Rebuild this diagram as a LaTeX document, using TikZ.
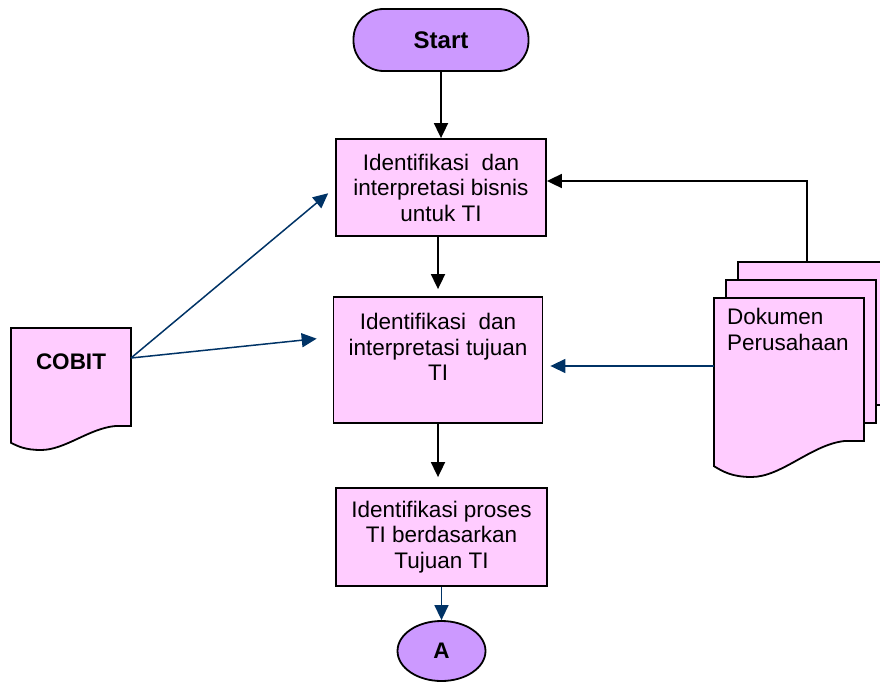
\documentclass[tikz,border=0pt]{standalone}
\usepackage{fontspec}
\setmainfont{Liberation Sans}
\usetikzlibrary{arrows.meta,shapes.geometric}
\definecolor{pinkbox}{HTML}{FFCCFF}
\definecolor{ungu}{HTML}{CC99FF}
\definecolor{navy}{HTML}{003366}
\newcommand\teks{\fontsize{22.5pt}{25.5pt}\selectfont}
% document symbol: x, y, width, height, wave depth
\newcommand\docpath[5]{%
  \filldraw[dok] (#1,#2) -- ({#1+#3},#2) -- ({#1+#3},{#2+#4}) -- ({#1+0.87*#3},{#2+#4})
    .. controls ({#1+0.65*#3},{#2+#4+0.1*#5}) and ({#1+0.45*#3},{#2+#4+#5}) .. ({#1+0.25*#3},{#2+#4+#5})
    .. controls ({#1+0.12*#3},{#2+#4+#5}) and ({#1+0.06*#3},{#2+#4+0.85*#5}) .. (#1,{#2+#4+0.7*#5}) -- cycle;}
\tikzset{
  kotak/.style = {rectangle, draw=black, fill=pinkbox, line width=1.8pt,
    align=center, inner sep=0pt, font=\teks},
  terminal/.style = {rectangle, rounded corners=30pt, draw=black, fill=ungu,
    line width=1.8pt, minimum width=175pt, minimum height=62pt,
    font=\fontsize{24pt}{26pt}\selectfont\bfseries},% start
  konektor/.style = {ellipse, draw=black, fill=ungu, line width=1.8pt,
    minimum width=88pt, minimum height=60pt, inner sep=0pt, font=\teks\bfseries},
  dok/.style = {draw=black, fill=pinkbox, line width=1.8pt},
  panah/.style = {-{Triangle[length=15pt,width=14pt]}, line width=1.8pt, black},
  panahbiru/.style = {panah, navy, line width=1.5pt}
}

\begin{document}
\begin{tikzpicture}[x=1pt,y=-1pt]
\useasboundingbox (0,0) rectangle (880,682);
% documents
\docpath{11}{328}{120}{98}{24}
\docpath{738}{262}{150}{143}{36}
\docpath{726}{280}{150}{143}{36}
\docpath{714}{298}{150}{143}{36}
\node[font=\teks\bfseries, inner sep=0pt] (cobit) at (71,362) {COBIT};
\node[font=\teks, align=left, anchor=north west, inner sep=0pt] (dokumen) at (727,308) {Dokumen\\Perusahaan};
\coordinate (cobitR) at (131,358);
\coordinate (dokL) at (714,366);
\coordinate (dokT) at (807,262);
% flow
\node[terminal] (start) at (441,40) {Start};
\node[kotak, minimum width=210pt, minimum height=97pt] (bisnis) at (441,187.5)
	{Identifikasi\ \ dan\\interpretasi bisnis\\untuk TI};
\node[kotak, minimum width=209pt, minimum height=126pt] (tujuan) at (438,360)
	{Identifikasi\ \ dan\\interpretasi tujuan\\TI\\\mbox{}};
\node[kotak, minimum width=211pt, minimum height=98pt] (proses) at (441.5,537)
	{Identifikasi proses\\TI berdasarkan\\Tujuan TI};
\node[konektor] (A) at (441.5,651) {A};

\draw[panah] (start) -- (bisnis);
\draw[panah, shorten >=7pt] (tujuan.north |- bisnis.south) -- (tujuan.north);
\draw[panah, shorten >=10pt] (tujuan.south) -- (tujuan.south |- proses.north);
\draw[panahbiru] (proses) -- (A);
\draw[panah] (dokT) |- ([yshift=6.5pt]bisnis.east);
\draw[panahbiru, shorten >=7pt] (dokL) -- (dokL -| tujuan.east);
\draw[panahbiru, shorten >=9pt] (cobitR) -- (bisnis.west);
\draw[panahbiru, shorten >=16pt] (cobitR) -- ([yshift=23pt]tujuan.west);
\end{tikzpicture}
\end{document}
